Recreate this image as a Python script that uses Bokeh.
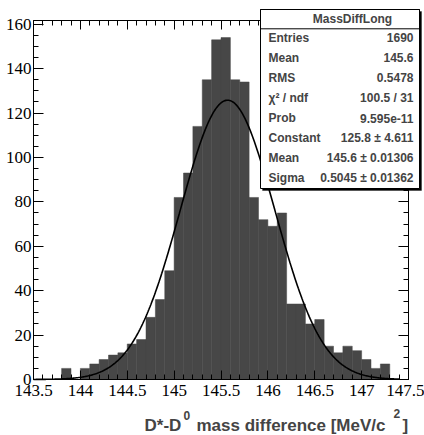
import numpy as np
from bokeh.plotting import figure
from bokeh.models import (Range1d, LinearAxis, SingleIntervalTicker,
                          CustomJSTickFormatter, Label, BoxAnnotation, ColumnDataSource)
from bokeh.embed import file_html
from bokeh.resources import INLINE

# ---------------- data ----------------
bin_left = [143.5, 143.6, 143.7, 143.8, 143.9, 144.0, 144.1, 144.2, 144.3, 144.4,
            144.5, 144.6, 144.7, 144.8, 144.9, 145.0, 145.1, 145.2, 145.3, 145.4,
            145.5, 145.6, 145.7, 145.8, 145.9, 146.0, 146.1, 146.2, 146.3, 146.4,
            146.5, 146.6, 146.7, 146.8, 146.9, 147.0, 147.1, 147.2, 147.3, 147.4]
bin_width = 0.1
counts = [0, 0, 0, 5, 0, 5, 7, 9, 11, 12,
          16, 18, 28, 36, 49, 82, 93, 114, 135, 153,
          154, 135, 134, 82, 72, 69, 75, 34, 34, 25,
          27, 15, 12, 15, 13, 9, 5, 7, 0, 0]

fit_constant = 125.8
fit_mean = 145.57
fit_sigma = 0.5045
fit_range = (143.5, 147.4)

x_axis_range = (143.5, 147.5)

stats_title = "MassDiffLong"
stats_names = ["Entries", "Mean", "RMS", "\u03c7\u00b2 / ndf", "Prob",
               "Constant", "Mean", "Sigma"]
stats_values = ["1690", "145.6", "0.5478", "100.5 / 31", "9.595e-11",
                "125.8 \u00b1 4.611", "145.6 \u00b1 0.01306", "0.5045 \u00b1 0.01362"]

x_title_parts = ["D*-D", "0", "mass difference [MeV/c", "2", "]"]

# ---------------- layout (pixels) ----------------
W, H = 424, 435
FL, FR, FT, FB = 33, 408, 20, 379   # plotting area inside the canvas

x0, x1 = x_axis_range
y0, y1 = 0, max(counts) * 1.05
kx = (x1 - x0) / (FR - FL)
ky = (y1 - y0) / (FB - FT)

p = figure(width=W, height=H, output_backend="svg", toolbar_location=None,
           x_range=Range1d(x0 - FL * kx, x1 + (W - FR) * kx),
           y_range=Range1d(y0 - (H - FB) * ky, y1 + FT * ky),
           min_border=0, min_border_left=0, min_border_right=0,
           min_border_top=0, min_border_bottom=0,
           x_axis_location=None, y_axis_location=None)
p.grid.visible = False
p.outline_line_color = None
p.background_fill_color = "white"
p.border_fill_color = "white"

src = ColumnDataSource(dict(left=bin_left,
                            right=[b + bin_width for b in bin_left],
                            top=counts, bottom=[0] * len(counts)))
p.quad(left="left", right="right", top="top", bottom="bottom", source=src,
       fill_color="#474747", line_color="#474747", line_width=0.5)

xf = np.linspace(fit_range[0], fit_range[1], 400)
yf = fit_constant * np.exp(-0.5 * ((xf - fit_mean) / fit_sigma) ** 2)
p.line(xf, yf, line_color="black", line_width=1.6)

serif = "Liberation Serif"
fmt_x = CustomJSTickFormatter(code="return String(Math.round(tick*10)/10);")
fmt_y = CustomJSTickFormatter(code="return String(Math.round(tick));")
fmt_blank = CustomJSTickFormatter(code="return '';")

def make_axis(loc, bounds, ticker, formatter, tick_major, tick_minor):
    ax = LinearAxis(ticker=ticker, formatter=formatter, fixed_location=loc, bounds=bounds)
    ax.axis_line_color = "black"
    ax.axis_line_width = 1
    ax.major_tick_line_color = "black"
    ax.minor_tick_line_color = "black"
    ax.major_tick_in = tick_major
    ax.major_tick_out = 0
    ax.minor_tick_in = tick_minor
    ax.minor_tick_out = 0
    ax.major_label_text_font = serif
    ax.major_label_text_font_size = "17px"
    ax.major_label_text_color = "black"
    return ax

bottom = make_axis(y0, (x0, x1), SingleIntervalTicker(interval=0.5, num_minor_ticks=5), fmt_x, 9, 5)
bottom.major_label_standoff = 5
top = make_axis(y1, (x0, x1), SingleIntervalTicker(interval=0.5, num_minor_ticks=5), fmt_blank, 9, 5)
left = make_axis(x0, (y0, y1), SingleIntervalTicker(interval=20, num_minor_ticks=4), fmt_y, 10, 5)
left.major_label_standoff = 2
right = make_axis(x1, (y0, y1), SingleIntervalTicker(interval=20, num_minor_ticks=4), fmt_blank, 10, 5)

p.add_layout(bottom, "below")
p.add_layout(top, "above")
p.add_layout(left, "left")
p.add_layout(right, "right")

# ---------------- stats box (screen units, y from bottom of canvas) ----------------
sans = "Liberation Sans"
def sy(canvas_y):
    return H - canvas_y

box_l, box_r, box_t, box_b = 260, 419, 9, 188
p.add_layout(BoxAnnotation(left=box_l + 2, right=box_r + 2, top=sy(box_t + 2), bottom=sy(box_b + 2),
                           left_units="screen", right_units="screen",
                           top_units="screen", bottom_units="screen",
                           fill_color="black", fill_alpha=1, line_color="black"))
p.add_layout(BoxAnnotation(left=box_l, right=box_r, top=sy(box_t), bottom=sy(box_b),
                           left_units="screen", right_units="screen",
                           top_units="screen", bottom_units="screen",
                           fill_color="white", fill_alpha=1, line_color="black",
                           line_width=1, line_alpha=1))
p.add_layout(BoxAnnotation(left=box_l, right=box_r, top=sy(box_t), bottom=sy(box_t + 19.3),
                           left_units="screen", right_units="screen",
                           top_units="screen", bottom_units="screen",
                           fill_alpha=0, line_color="black", line_width=1, line_alpha=1))

p.add_layout(Label(x=352, y=sy(18.8), x_units="screen", y_units="screen", text=stats_title,
                   text_font=sans, text_font_style="bold", text_font_size="12px",
                   text_align="center", text_baseline="middle"))
for i, (nm, vl) in enumerate(zip(stats_names, stats_values)):
    cy = sy(37.2 + 20.1 * i)
    p.add_layout(Label(x=268, y=cy, x_units="screen", y_units="screen", text=nm,
                       text_font=sans, text_font_style="bold", text_font_size="12px",
                       text_align="left", text_baseline="middle"))
    p.add_layout(Label(x=413, y=cy, x_units="screen", y_units="screen", text=vl,
                       text_font=sans, text_font_style="bold", text_font_size="12px",
                       text_align="right", text_baseline="middle"))

# ---------------- x-axis title ----------------
title_x = [144, 183, 196, 393, 402]
title_y = [sy(424.5), sy(415), sy(424.5), sy(412.5), sy(424.5)]
title_sz = ["17px", "12px", "17px", "12px", "17px"]
for t, tx, ty, ts in zip(x_title_parts, title_x, title_y, title_sz):
    p.add_layout(Label(x=tx, y=ty, x_units="screen", y_units="screen", text=t,
                       text_font=sans, text_font_style="bold", text_font_size=ts,
                       text_align="left", text_baseline="alphabetic"))

open("out.html", "w").write(file_html(p, INLINE))
